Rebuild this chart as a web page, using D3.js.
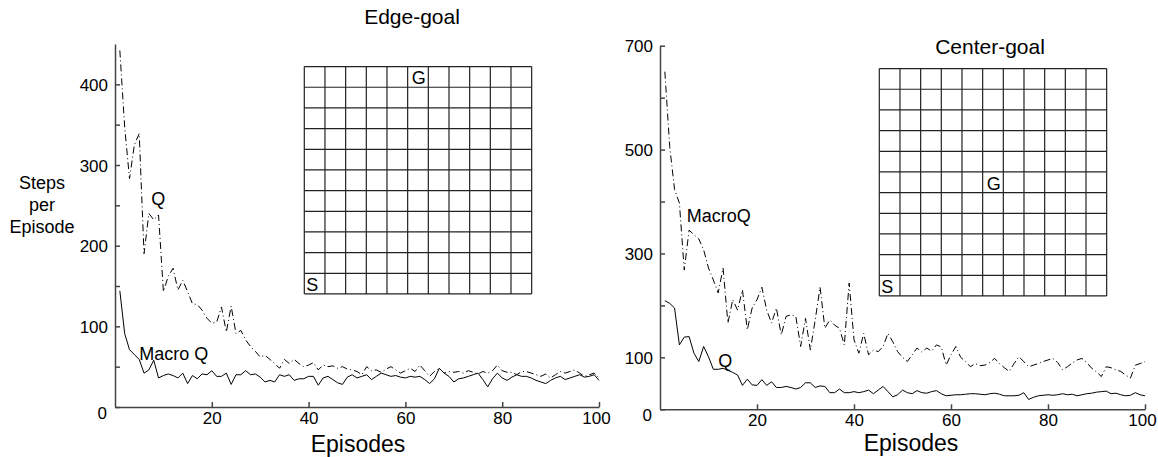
<!DOCTYPE html>
<html>
<head>
<meta charset="utf-8">
<script src="https://cdn.jsdelivr.net/npm/d3@7"></script>
<style>
  body { margin: 0; background: #fff; }
  svg text { font-family: "Liberation Sans", Arial, sans-serif; fill: #000; }
  .axis path, .axis line { stroke: #444; stroke-width: 1.5; }
</style>
</head>
<body>
<svg id="chart" width="1158" height="457"></svg>
<script>
// episodes 1..100
let episodes = d3.range(1, 101);

// Edge-goal (left)
let edgeQ = [442, 347, 283, 325, 339, 190, 240, 232, 238, 143,
  162, 172, 145, 157, 143, 128, 127, 120, 110, 104,
  105, 124, 93, 125, 91, 95, 83, 75, 69, 62,
  64, 59, 54, 48, 59, 54, 59, 54, 50, 52,
  55, 46, 52, 50, 51, 48, 50, 47, 46, 44,
  40, 50, 45, 46, 43, 47, 50, 46, 42, 45,
  48, 44, 52, 45, 38, 44, 48, 42, 44, 43,
  44, 42, 45, 43, 41, 44, 42, 45, 52, 45,
  43, 43, 40, 44, 44, 42, 40, 38, 41, 36,
  40, 44, 42, 44, 46, 42, 38, 40, 42, 36];
let edgeMacroQ = [144, 91, 71, 65, 59, 42, 46, 58, 36, 39,
  41, 39, 36, 42, 29, 39, 35, 41, 40, 45,
  38, 38, 42, 28, 40, 40, 45, 40, 41, 37,
  31, 33, 31, 40, 38, 40, 33, 35, 35, 38,
  38, 27, 36, 38, 34, 30, 28, 37, 40, 36,
  38, 40, 34, 38, 42, 40, 38, 39, 37, 36,
  38, 37, 38, 34, 29, 35, 48, 42, 38, 31,
  35, 36, 38, 40, 42, 34, 25, 35, 42, 36,
  33, 37, 40, 38, 38, 36, 33, 31, 29, 33,
  36, 38, 34, 36, 38, 40, 37, 38, 40, 33];

// Center-goal (right)
let centerMacroQ = [650, 506, 423, 397, 268, 345, 336, 328, 307, 272,
  249, 224, 272, 166, 211, 191, 230, 153, 195, 211,
  235, 191, 166, 195, 143, 179, 182, 179, 121, 175,
  114, 172, 235, 156, 172, 162, 156, 124, 243, 134,
  108, 146, 105, 114, 111, 121, 146, 130, 111, 100,
  92, 105, 118, 110, 118, 112, 124, 120, 85, 105,
  121, 100, 92, 82, 88, 84, 85, 90, 98, 88,
  80, 73, 88, 101, 92, 82, 85, 88, 92, 95,
  98, 90, 76, 82, 89, 95, 98, 90, 79, 72,
  63, 82, 80, 76, 73, 66, 60, 85, 88, 92];
let centerQ = [209, 204, 195, 124, 139, 140, 108, 92, 121, 101,
  77, 77, 79, 75, 71, 66, 46, 58, 47, 46,
  57, 46, 53, 42, 42, 44, 42, 39, 42, 51,
  51, 42, 45, 44, 32, 32, 39, 32, 32, 34,
  32, 34, 37, 30, 37, 44, 34, 24, 28, 37,
  32, 30, 36, 32, 31, 34, 36, 30, 26, 27,
  28, 28, 29, 30, 30, 29, 28, 30, 31, 29,
  26, 26, 26, 27, 32, 19, 23, 26, 27, 28,
  27, 28, 30, 28, 29, 26, 28, 30, 31, 33,
  34, 35, 30, 31, 28, 26, 27, 32, 28, 26];

let xTicks = [20, 40, 60, 80, 100];
let edgeYTicks = [0, 50, 100, 150, 200, 250, 300, 350, 400];
let edgeYLabels = [100, 200, 300, 400];
let centerYTicks = [0, 100, 200, 300, 400, 500, 600, 700];
let centerYLabels = [100, 300, 500, 700];

let gridSize = 11;

let svg = d3.select("#chart");

let panels = [
  {
    title: "Edge-goal", titleX: 412, titleY: 24,
    x0: 115, x1: 599, yBottom: 407, yTop: 44, yMax: 450,
    yTicks: edgeYTicks, yLabels: edgeYLabels,
    dashed: edgeQ, solid: edgeMacroQ,
    dashedLabel: { text: "Q", ep: 7.5, v: 250 },
    solidLabel: { text: "Macro Q", ep: 5, v: 58 },
    grid: { left: 304.3, top: 66.6, cell: 20.67 }, goal: [5, 0],
    episodesX: 358, episodesY: 452, steps: true
  },
  {
    title: "Center-goal", titleX: 990, titleY: 54,
    x0: 660, x1: 1145, yBottom: 409.3, yTop: 45.7, yMax: 700,
    yTicks: centerYTicks, yLabels: centerYLabels,
    dashed: centerMacroQ, solid: centerQ,
    dashedLabel: { text: "MacroQ", ep: 5.5, v: 361 },
    solidLabel: { text: "Q", ep: 12, v: 81 },
    grid: { left: 879.3, top: 68.6, cell: 20.67 }, goal: [5, 5],
    episodesX: 911, episodesY: 451, steps: false
  }
];

panels.forEach(p => {
  let x = d3.scaleLinear().domain([0, 100]).range([p.x0, p.x1]);
  let y = d3.scaleLinear().domain([0, p.yMax]).range([p.yBottom, p.yTop]);

  // y axis, ticks pointing inward
  let yAxis = d3.axisLeft(y)
    .tickValues(p.yTicks)
    .tickSizeInner(-5).tickSizeOuter(0).tickPadding(7)
    .tickFormat(d => p.yLabels.includes(d) ? d : "");
  svg.append("g").attr("class", "axis")
    .attr("transform", "translate(" + p.x0 + ",0)")
    .call(yAxis)
    .call(g => g.selectAll("text").style("font-size", "17px").attr("dy", "0.36em"));

  // origin label sits a little below the axis
  svg.append("text")
    .attr("x", p.x0 - 8)
    .attr("y", y(0) + 12)
    .style("text-anchor", "end")
    .style("font-size", "17px")
    .text("0");

  let xAxis = d3.axisBottom(x)
    .tickValues(xTicks)
    .tickSizeInner(-5).tickSizeOuter(0).tickPadding(5);
  svg.append("g").attr("class", "axis")
    .attr("transform", "translate(0," + p.yBottom + ")")
    .call(xAxis)
    .call(g => g.selectAll("text").style("font-size", "17px"))
    .call(g => g.selectAll(".tick").filter(d => d === 100).select("text").attr("x", -3));

  let line = d3.line()
    .x((d, i) => x(episodes[i]))
    .y(d => y(d));

  svg.append("path")
    .datum(p.dashed)
    .attr("d", line)
    .attr("fill", "none")
    .attr("stroke", "#000")
    .attr("stroke-width", 1)
    .attr("stroke-dasharray", "7,3,1,3");

  svg.append("path")
    .datum(p.solid)
    .attr("d", line)
    .attr("fill", "none")
    .attr("stroke", "#000")
    .attr("stroke-width", 1);

  [p.dashedLabel, p.solidLabel].forEach(l => {
    svg.append("text")
      .attr("x", x(l.ep))
      .attr("y", y(l.v))
      .style("font-size", "18px")
      .text(l.text);
  });

  // title
  svg.append("text")
    .attr("x", p.titleX).attr("y", p.titleY)
    .style("text-anchor", "middle")
    .style("font-size", "21px")
    .text(p.title);

  svg.append("text")
    .attr("x", p.episodesX).attr("y", p.episodesY)
    .style("text-anchor", "middle")
    .style("font-size", "23px")
    .text("Episodes");

  // grid world inset
  let g = p.grid;
  let gx = d3.scaleLinear().domain([0, gridSize]).range([g.left, g.left + g.cell * gridSize]);
  let gy = d3.scaleLinear().domain([0, gridSize]).range([g.top, g.top + g.cell * gridSize]);
  let inset = svg.append("g");
  inset.selectAll("line.v")
    .data(d3.range(gridSize + 1))
    .enter().append("line")
    .attr("x1", d => gx(d)).attr("x2", d => gx(d))
    .attr("y1", gy(0)).attr("y2", gy(gridSize))
    .attr("stroke", "#222").attr("stroke-width", 1.2);
  inset.selectAll("line.h")
    .data(d3.range(gridSize + 1))
    .enter().append("line")
    .attr("y1", d => gy(d)).attr("y2", d => gy(d))
    .attr("x1", gx(0)).attr("x2", gx(gridSize))
    .attr("stroke", "#222").attr("stroke-width", 1.2);

  inset.append("text")
    .attr("x", gx(0) + 2).attr("y", gy(gridSize) - 3)
    .style("font-size", "18px")
    .text("S");
  inset.append("text")
    .attr("x", gx(p.goal[0]) + 4).attr("y", gy(p.goal[1] + 1) - 3)
    .style("font-size", "18px")
    .text("G");

  if (p.steps) {
    let lbl = svg.append("text")
      .attr("x", 42).attr("y", 189)
      .style("text-anchor", "middle")
      .style("font-size", "18px");
    ["Steps", "per", "Episode"].forEach((s, i) => {
      lbl.append("tspan").attr("x", 42).attr("dy", i === 0 ? 0 : 22).text(s);
    });
  }
});
</script>
</body>
</html>
